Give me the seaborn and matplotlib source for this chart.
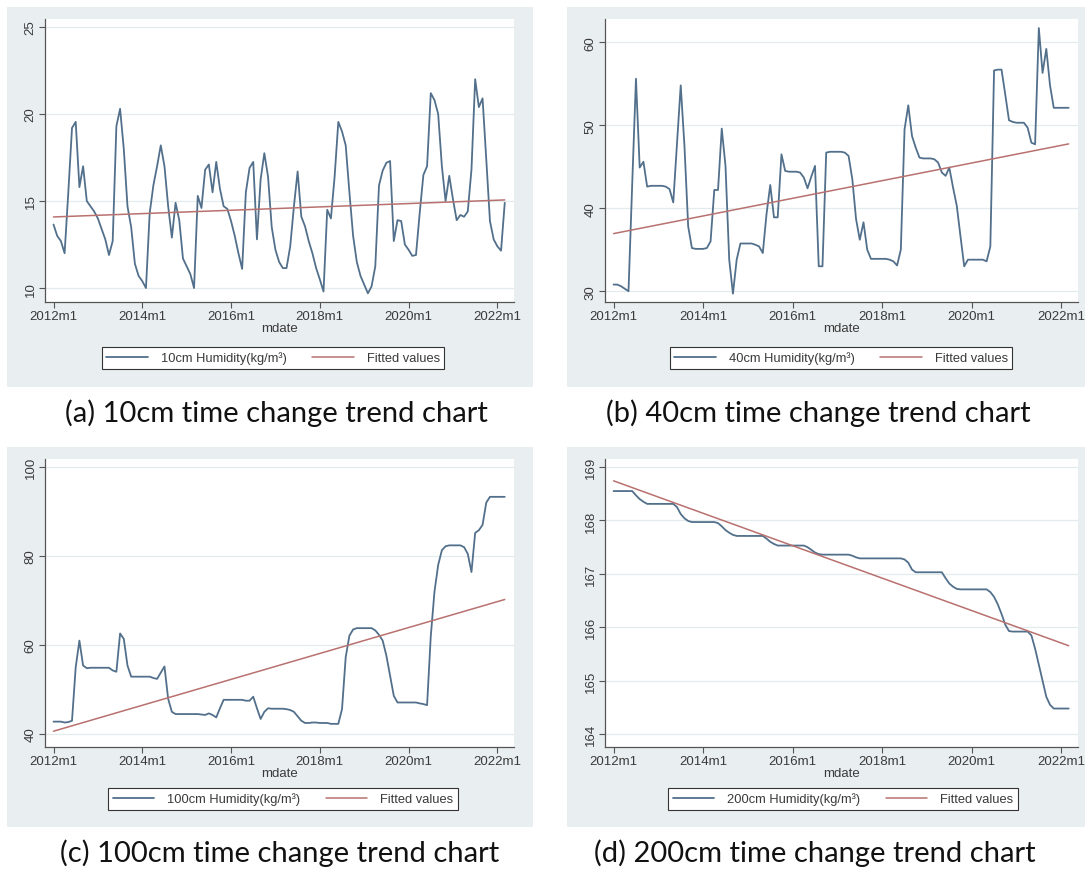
import numpy as np
import pandas as pd
import matplotlib
matplotlib.use("Agg")
import matplotlib.pyplot as plt
from matplotlib.patches import Rectangle
import seaborn as sns

# Monthly soil humidity series, 2012m1 .. 2022m3
months = list(range(123))
tick_months = [0, 24, 48, 72, 96, 120]
tick_labels = ["2012m1", "2014m1", "2016m1", "2018m1", "2020m1", "2022m1"]

hum_10cm = [
    13.65, 13.0, 12.7, 12.0, 15.5, 19.2, 19.55, 15.8, 17.0, 15.0,
    14.7, 14.4, 14.0, 13.4, 12.8, 11.9, 12.7, 19.3, 20.3, 18.0,
    14.7, 13.5, 11.4, 10.7, 10.4, 10.0, 14.3, 15.9, 17.0, 18.2,
    17.0, 14.7, 12.9, 14.9, 13.9, 11.7, 11.25, 10.8, 10.0, 15.3,
    14.6, 16.8, 17.1, 15.5, 17.25, 15.7, 14.7, 14.55, 13.85, 13.0,
    12.0, 11.1, 15.5, 16.9, 17.25, 12.8, 16.25, 17.75, 16.4, 13.5,
    12.2, 11.5, 11.15, 11.15, 12.4, 14.7, 16.7, 14.1, 13.55, 12.7,
    12.0, 11.15, 10.5, 9.8, 14.5, 14.0, 16.4, 19.55, 19.0, 18.2,
    15.5, 13.0, 11.5, 10.7, 10.2, 9.7, 10.1, 11.25, 15.9, 16.75,
    17.2, 17.3, 12.7, 13.9, 13.85, 12.5, 12.2, 11.85, 11.9, 14.3,
    16.5, 17.0, 21.2, 20.8, 20.0, 17.0, 15.0, 16.45, 15.1, 13.9,
    14.2, 14.1, 14.4, 16.8, 22.0, 20.4, 20.9, 17.4, 13.85, 12.8,
    12.4, 12.15, 14.9,
]

hum_40cm = [
    30.8, 30.8, 30.6, 30.3, 30.0, 43.0, 55.6, 44.9, 45.6, 42.6,
    42.7, 42.7, 42.7, 42.7, 42.6, 42.3, 40.7, 47.8, 54.8, 47.5,
    37.8, 35.2, 35.1, 35.1, 35.1, 35.2, 36.0, 42.2, 42.2, 49.6,
    45.1, 33.8, 29.7, 33.8, 35.75, 35.75, 35.75, 35.75, 35.6, 35.4,
    34.6, 39.3, 42.8, 38.9, 38.9, 46.5, 44.5, 44.4, 44.4, 44.4,
    44.3, 43.7, 42.4, 43.8, 45.1, 33.0, 33.0, 46.7, 46.8, 46.8,
    46.8, 46.8, 46.7, 46.3, 43.5, 38.7, 36.2, 38.3, 35.0, 33.9,
    33.9, 33.9, 33.9, 33.9, 33.8, 33.6, 33.1, 35.0, 49.5, 52.4,
    48.7, 47.3, 46.1, 46.0, 46.0, 46.0, 45.9, 45.5, 44.3, 43.9,
    44.9, 42.5, 40.3, 36.6, 33.0, 33.8, 33.8, 33.8, 33.8, 33.8,
    33.6, 35.4, 56.6, 56.7, 56.7, 53.7, 50.6, 50.4, 50.3, 50.3,
    50.3, 49.7, 47.9, 47.7, 61.7, 56.3, 59.2, 54.8, 52.1, 52.1,
    52.1, 52.1, 52.1,
]

hum_100cm = [
    42.8, 42.8, 42.8, 42.6, 42.7, 43.0, 55.0, 61.0, 55.4, 54.8,
    54.9, 54.9, 54.9, 54.9, 54.9, 54.9, 54.3, 54.0, 62.6, 61.4,
    55.4, 52.9, 52.9, 52.9, 52.9, 52.9, 52.9, 52.6, 52.4, 53.8,
    55.2, 47.9, 45.0, 44.5, 44.5, 44.5, 44.5, 44.5, 44.5, 44.5,
    44.4, 44.3, 44.65, 44.3, 43.75, 45.8, 47.7, 47.7, 47.7, 47.7,
    47.7, 47.7, 47.5, 47.5, 48.4, 45.8, 43.4, 45.0, 45.8, 45.7,
    45.7, 45.7, 45.7, 45.6, 45.4, 45.0, 44.0, 43.0, 42.5, 42.5,
    42.6, 42.6, 42.5, 42.5, 42.5, 42.3, 42.3, 42.3, 45.6, 57.3,
    62.1, 63.5, 63.8, 63.8, 63.8, 63.8, 63.8, 63.3, 62.3, 61.0,
    57.6, 53.1, 48.6, 47.1, 47.1, 47.1, 47.1, 47.1, 47.1, 46.9,
    46.75, 46.5, 62.0, 72.0, 78.0, 81.3, 82.2, 82.4, 82.4, 82.4,
    82.4, 82.0, 80.5, 76.4, 85.2, 85.8, 87.0, 92.0, 93.3, 93.3,
    93.3, 93.3, 93.3,
]

hum_200cm = [
    168.55, 168.55, 168.55, 168.55, 168.55, 168.55, 168.47, 168.40, 168.35, 168.31,
    168.31, 168.31, 168.31, 168.31, 168.31, 168.31, 168.31, 168.25, 168.12, 168.04,
    167.99, 167.97, 167.97, 167.97, 167.97, 167.97, 167.97, 167.97, 167.95, 167.89,
    167.82, 167.77, 167.73, 167.71, 167.71, 167.71, 167.71, 167.71, 167.71, 167.71,
    167.71, 167.66, 167.60, 167.56, 167.53, 167.53, 167.53, 167.53, 167.53, 167.53,
    167.53, 167.53, 167.50, 167.45, 167.40, 167.37, 167.36, 167.36, 167.36, 167.36,
    167.36, 167.36, 167.36, 167.36, 167.34, 167.31, 167.29, 167.29, 167.29, 167.29,
    167.29, 167.29, 167.29, 167.29, 167.29, 167.29, 167.29, 167.29, 167.27, 167.21,
    167.08, 167.03, 167.03, 167.03, 167.03, 167.03, 167.03, 167.03, 167.03, 166.92,
    166.82, 166.76, 166.72, 166.71, 166.71, 166.71, 166.71, 166.71, 166.71, 166.71,
    166.71, 166.66, 166.57, 166.43, 166.25, 166.05, 165.93, 165.92, 165.92, 165.92,
    165.92, 165.92, 165.85, 165.60, 165.30, 165.00, 164.70, 164.55, 164.48, 164.48,
    164.48, 164.48, 164.48,
]

series_labels = ["10cm Humidity(kg/m\u00b3)", "40cm Humidity(kg/m\u00b3)",
                 "100cm Humidity(kg/m\u00b3)", "200cm Humidity(kg/m\u00b3)"]
captions = ["(a) 10cm time change trend chart", "(b) 40cm time change trend chart",
            "(c) 100cm time change trend chart", "(d) 200cm time change trend chart"]
y_ticks = [[10, 15, 20, 25], [30, 40, 50, 60], [40, 60, 80, 100],
           [164, 165, 166, 167, 168, 169]]
y_limits = [(9.2, 25.46), (28.7, 62.8), (37.1, 101.8), (163.76, 169.15)]

W, H = 1085, 870
LINE_COLOR = "#52708b"
FIT_COLOR = "#b8716f"
PANEL_BG = "#e9eff1"
GRID_COLOR = "#e4ebee"
TEXT_COLOR = "#3a3a3a"

sns.set_theme(style="white")
plt.rcParams["font.family"] = ["Liberation Sans", "DejaVu Sans"]

fig = plt.figure(figsize=(W / 100, H / 100), dpi=100)
fig.patch.set_facecolor("white")


def fig_box(x0, y0, x1, y1):
    return [x0 / W, 1 - y1 / H, (x1 - x0) / W, (y1 - y0) / H]


# pixel layout of each panel: background, plot area, legend centre, caption centre
layouts = [
    dict(bg=(7, 8, 533, 388), ax=(45, 20, 514, 303), leg=(273, 359), cap=(276, 413)),
    dict(bg=(567, 8, 1085, 388), ax=(605, 20, 1078, 303), leg=(841, 359), cap=(818, 413)),
    dict(bg=(7, 448, 533, 828), ax=(45, 460, 514, 748), leg=(283, 800), cap=(280, 853)),
    dict(bg=(567, 448, 1085, 828), ax=(605, 460, 1078, 748), leg=(843, 800), cap=(815, 853)),
]

all_series = [hum_10cm, hum_40cm, hum_100cm, hum_200cm]

for i, lay in enumerate(layouts):
    x0, y0, x1, y1 = lay["bg"]
    fig.add_artist(Rectangle((x0 / W, 1 - y1 / H), (x1 - x0) / W, (y1 - y0) / H,
                             transform=fig.transFigure, facecolor=PANEL_BG,
                             edgecolor="none", zorder=0))

    ax = fig.add_axes(fig_box(*lay["ax"]))
    ax.set_facecolor("white")
    df = pd.DataFrame({"mdate": months, "value": all_series[i]})

    sns.lineplot(data=df, x="mdate", y="value", ax=ax, color=LINE_COLOR,
                 linewidth=1.3, label=series_labels[i], zorder=3)
    sns.regplot(data=df, x="mdate", y="value", ax=ax, scatter=False, ci=None,
                color=FIT_COLOR, line_kws={"linewidth": 1.1, "zorder": 4},
                label="Fitted values")

    ax.set_xlim(-2.3, 124.5)
    ax.set_ylim(*y_limits[i])
    ax.set_xticks(tick_months)
    ax.set_xticklabels(tick_labels)
    ax.set_yticks(y_ticks[i])
    ax.set_yticklabels([str(v) for v in y_ticks[i]], rotation=90, va="center")
    ax.tick_params(axis="both", direction="out", length=4, width=0.8,
                   color="#555555", labelsize=9.5, labelcolor=TEXT_COLOR, pad=2,
                   bottom=True, left=True)
    ax.grid(axis="y", color=GRID_COLOR, linewidth=0.9)
    ax.grid(axis="x", visible=False)
    for side in ("top", "right"):
        ax.spines[side].set_visible(False)
    for side in ("left", "bottom"):
        ax.spines[side].set_color("#555555")
        ax.spines[side].set_linewidth(0.9)
    ax.set_xlabel("mdate", fontsize=9.5, color=TEXT_COLOR, labelpad=0)
    ax.set_ylabel("")

    handles, labels = ax.get_legend_handles_labels()
    if ax.get_legend():
        ax.get_legend().remove()
    lx, ly = lay["leg"]
    leg = fig.legend(handles, labels, loc="center",
                     bbox_to_anchor=(lx / W, 1 - ly / H),
                     ncol=2, frameon=True, fancybox=False, edgecolor="#333333",
                     framealpha=1, facecolor="white", fontsize=9.3,
                     handlelength=3.2, handletextpad=1.0, columnspacing=2.0,
                     borderpad=0.35, labelcolor=TEXT_COLOR)
    leg.get_frame().set_linewidth(0.8)

    cx, cy = lay["cap"]
    fig.text(cx / W, 1 - cy / H, captions[i], ha="center", va="center",
             fontsize=21, family=["Lato", "DejaVu Sans"], color="#111111")

fig.savefig("out.png", dpi=100, facecolor="white")
